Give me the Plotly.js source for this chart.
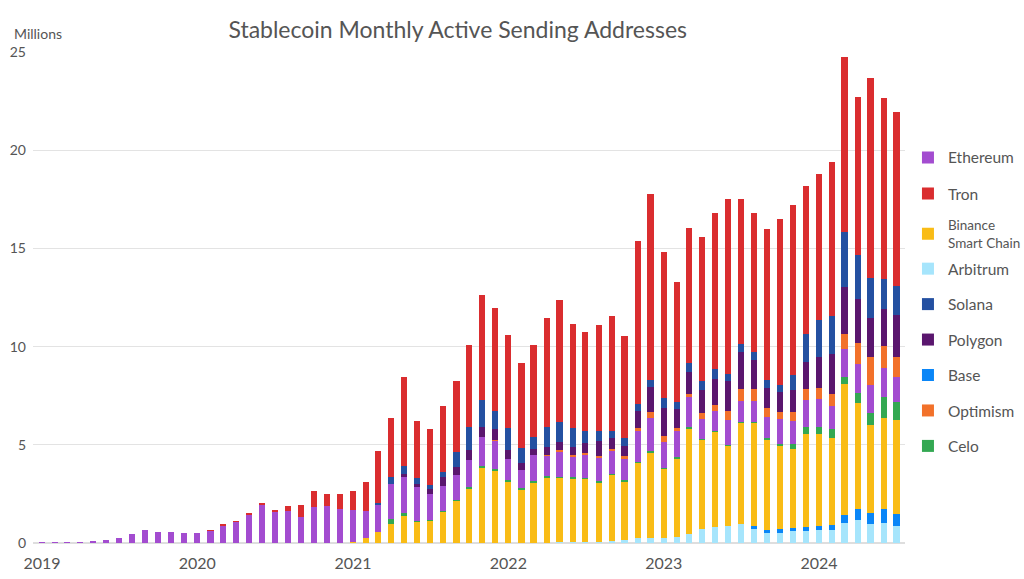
<!DOCTYPE html>
<html>
<head>
<meta charset="utf-8">
<script src="https://cdn.plot.ly/plotly-3.0.1.min.js"></script>
<style>
  html, body { margin: 0; padding: 0; background: #fff; }
  #chart { width: 1024px; height: 579px; }
</style>
</head>
<body>
<div id="chart"></div>
<script>
// Months (bar categories on a date axis)
const months = [
  "2019-01","2019-02","2019-03","2019-04","2019-05","2019-06","2019-07","2019-08","2019-09","2019-10","2019-11","2019-12",
  "2020-01","2020-02","2020-03","2020-04","2020-05","2020-06","2020-07","2020-08","2020-09","2020-10","2020-11","2020-12",
  "2021-01","2021-02","2021-03","2021-04","2021-05","2021-06","2021-07","2021-08","2021-09","2021-10","2021-11","2021-12",
  "2022-01","2022-02","2022-03","2022-04","2022-05","2022-06","2022-07","2022-08","2022-09","2022-10","2022-11","2022-12",
  "2023-01","2023-02","2023-03","2023-04","2023-05","2023-06","2023-07","2023-08","2023-09","2023-10","2023-11","2023-12",
  "2024-01","2024-02","2024-03","2024-04","2024-05","2024-06","2024-07"
];

// Values in millions of monthly active sending addresses
const arbitrum = [
  0,0,0,0,0,0,0,0,0,0,0,0,
  0,0,0,0,0,0,0,0,0,0,0,0,
  0,0,0,0,0,0,0,0,0,0,0,0,
  0,0,0,0,0.05,0.03,0.04,0.05,0.08,0.15,0.23,0.23,
  0.24,0.31,0.48,0.70,0.80,0.87,0.95,0.76,0.53,0.53,0.61,0.59,
  0.66,0.66,1.02,1.15,0.97,1.02,0.87
];
const base = [
  0,0,0,0,0,0,0,0,0,0,0,0,
  0,0,0,0,0,0,0,0,0,0,0,0,
  0,0,0,0,0,0,0,0,0,0,0,0,
  0,0,0,0,0,0,0,0,0,0,0,0,
  0,0,0,0,0,0,0,0.10,0.14,0.17,0.15,0.24,
  0.22,0.25,0.41,0.58,0.56,0.71,0.63
];
const bsc = [
  0,0,0,0,0,0,0,0,0,0,0,0,
  0,0,0,0,0,0,0,0,0,0,0,0,
  0.03,0.24,0.54,0.95,1.41,1.10,1.12,1.60,2.14,2.80,3.85,3.67,
  3.14,2.73,3.09,3.36,3.28,3.26,3.22,3.02,3.40,3.00,3.85,4.38,
  3.53,4.01,5.33,4.55,4.87,4.09,5.16,5.28,4.62,4.26,4.02,4.72,
  4.67,4.45,6.66,5.38,4.47,4.62,4.74
];
const celo = [
  0,0,0,0,0,0,0,0,0,0,0,0,
  0,0,0,0,0,0,0,0,0,0,0,0,
  0,0,0,0.25,0.10,0.03,0.03,0.05,0.05,0.05,0.07,0.08,
  0.07,0.05,0.07,0.07,0.05,0.05,0.05,0.07,0.05,0.04,0.05,0.05,
  0.05,0.05,0.08,0.03,0.03,0.03,0.03,0.03,0.07,0.08,0.25,0.37,
  0.34,0.42,0.36,0.51,0.61,1.09,0.93
];
const ethereum = [
  0.03,0.03,0.03,0.05,0.09,0.15,0.24,0.47,0.64,0.55,0.55,0.51,
  0.51,0.63,0.91,1.07,1.47,1.94,1.56,1.62,1.32,1.82,1.86,1.72,
  1.66,1.41,1.44,1.80,1.90,1.71,1.36,1.26,1.27,1.38,1.46,1.46,
  1.07,0.92,1.31,1.00,1.29,1.05,1.19,1.19,1.17,1.10,1.56,1.71,
  1.34,1.31,1.53,1.05,1.04,1.27,1.07,1.07,1.07,1.26,1.19,1.36,
  1.43,1.21,1.44,1.48,1.44,1.49,1.29
];
const optimism = [
  0,0,0,0,0,0,0,0,0,0,0,0,
  0,0,0,0,0,0,0,0,0,0,0,0,
  0,0,0,0,0,0,0,0,0,0,0,0.05,
  0,0,0,0.05,0.05,0.07,0.07,0.08,0.11,0.13,0.17,0.29,
  0.29,0.17,0.17,0.31,0.29,0.44,0.61,0.58,0.44,0.36,0.44,0.54,
  0.56,0.58,0.76,1.07,1.41,1.10,1.00
];
const polygon = [
  0,0,0,0,0,0,0,0,0,0,0,0,
  0,0,0,0,0,0,0,0,0,0,0,0,
  0,0,0,0,0.10,0.15,0.24,0.46,0.41,0.53,0.53,0.54,
  0.48,0.39,0.34,0.41,0.42,0.44,0.54,0.80,0.54,0.53,0.84,1.26,
  1.44,0.95,1.12,1.17,1.34,1.54,1.90,1.51,1.04,1.02,1.14,1.41,
  1.61,2.07,2.41,2.26,2.02,1.90,2.17
];
const solana = [
  0,0,0,0,0,0,0,0,0,0,0,0,
  0,0,0,0,0,0,0,0,0,0,0,0,
  0,0,0.07,0.37,0.41,0.34,0.19,0.22,0.75,1.15,1.36,0.93,
  1.09,0.73,0.58,1.00,1.04,0.98,0.61,0.50,0.37,0.39,0.39,0.39,
  0.48,0.39,0.48,0.42,0.49,0.37,0.39,0.37,0.37,0.36,0.75,1.39,
  1.85,1.94,2.80,2.21,1.99,1.53,1.48
];
const tron = [
  0,0,0,0,0,0,0,0,0,0,0,0,
  0,0.02,0.04,0.04,0.04,0.08,0.11,0.25,0.59,0.84,0.65,0.75,
  0.96,1.44,2.65,3.02,4.55,2.90,2.85,3.40,3.62,4.16,5.35,5.26,
  4.75,4.36,4.70,5.59,6.18,5.25,5.01,5.40,5.84,5.22,8.30,9.44,
  7.47,6.08,6.83,7.37,7.95,8.90,7.42,7.10,7.69,8.45,8.66,7.57,
  7.45,7.83,8.90,8.08,10.22,9.22,8.83
];

const yTicks = [0, 5, 10, 15, 20, 25];
const xTickVals = ["2019-01-01","2020-01-01","2021-01-01","2022-01-01","2023-01-01","2024-01-01"];
const xTickText = ["2019","2020","2021","2022","2023","2024"];

// Stack order bottom -> top; rank/legend control the legend display
const series = [
  {name: "Arbitrum", y: arbitrum, color: "#a6e5fc", rank: 4, legend: "legend3"},
  {name: "Base", y: base, color: "#0a86f7", rank: 7, legend: "legend3"},
  {name: "Binance<br>Smart Chain", y: bsc, color: "#f9bc16", rank: 3, legend: "legend2"},
  {name: "Celo", y: celo, color: "#33a852", rank: 9, legend: "legend3"},
  {name: "Ethereum", y: ethereum, color: "#a34cd0", rank: 1, legend: "legend"},
  {name: "Optimism", y: optimism, color: "#f2712a", rank: 8, legend: "legend3"},
  {name: "Polygon", y: polygon, color: "#5a166e", rank: 6, legend: "legend3"},
  {name: "Solana", y: solana, color: "#2450a1", rank: 5, legend: "legend3"},
  {name: "Tron", y: tron, color: "#da2d2f", rank: 2, legend: "legend"}
];

const DAY = 86400000;
const traces = series.map((s, i) => ({
  type: "bar",
  x: months,
  y: s.y,
  name: s.name,
  legend: s.legend,
  legendrank: s.rank,
  legendgroup: "g" + i,
  width: 14.5 * DAY,
  marker: {color: s.color, line: {width: 0}},
  hoverinfo: "x+y+name"
}));

const FONT = "Lato, 'Open Sans', sans-serif";
const legendX = 1.0034;
function legendBox(y, size, gap) {
  return {
    x: legendX, xanchor: "left",
    y: y, yanchor: "top",
    traceorder: "grouped",
    tracegroupgap: gap,
    font: {family: FONT, size: size, color: "#555555"},
    bgcolor: "rgba(0,0,0,0)",
    itemclick: false,
    itemdoubleclick: false
  };
}

const layout = {
  width: 1024,
  height: 579,
  margin: {l: 33, r: 119, t: 52, b: 36, pad: 0, autoexpand: false},
  paper_bgcolor: "#ffffff",
  plot_bgcolor: "#ffffff",
  barmode: "stack",
  font: {family: FONT, color: "#555555", size: 14},
  title: {
    text: "Stablecoin Monthly Active Sending Addresses",
    font: {family: FONT, size: 23, color: "#555555"},
    xref: "container", x: 0.447, xanchor: "center",
    yref: "container", y: 0.948, yanchor: "middle"
  },
  xaxis: {
    type: "date",
    range: ["2018-12-11", "2024-07-21"],
    tickmode: "array",
    tickvals: xTickVals,
    ticktext: xTickText,
    tickfont: {size: 16, color: "#555555"},
    showgrid: false,
    showline: false,
    ticks: "",
    zeroline: false,
    ticklabelstandoff: 9,
    automargin: false,
    fixedrange: true
  },
  yaxis: {
    range: [0, 25],
    tickmode: "array",
    tickvals: yTicks,
    ticktext: yTicks.map(String),
    tickfont: {size: 14, color: "#555555"},
    showgrid: true,
    gridcolor: "#e3e3e3",
    gridwidth: 1,
    zeroline: true,
    zerolinecolor: "#dedede",
    zerolinewidth: 2,
    showline: false,
    ticks: "",
    ticklabelstandoff: 6,
    automargin: false,
    fixedrange: true
  },
  legend: legendBox(0.819, 15.5, 13),
  legend2: legendBox(0.679, 13.5, 13),
  legend3: legendBox(0.5925, 15.5, 12.3),
  annotations: [{
    text: "Millions",
    xref: "paper", yref: "paper",
    x: -0.024, xanchor: "left",
    y: 1.037, yanchor: "middle",
    showarrow: false,
    font: {family: FONT, size: 14, color: "#555555"}
  }],
  showlegend: true
};

Plotly.newPlot("chart", traces, layout, {displayModeBar: false, staticPlot: false});
</script>
</body>
</html>
